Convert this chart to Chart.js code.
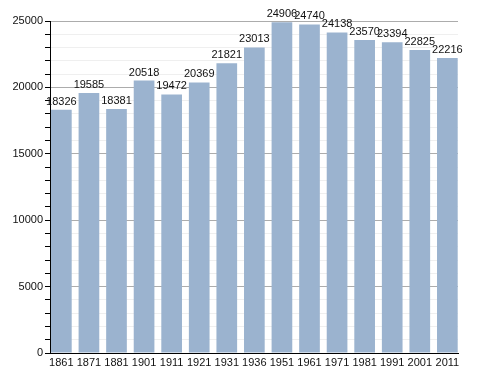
<!DOCTYPE html>
<html>
<head>
<meta charset="utf-8">
<script src="https://cdn.jsdelivr.net/npm/chart.js@4/dist/chart.umd.min.js"></script>
<style>
    html, body { margin: 0; padding: 0; background: #fff; }
    #wrap { width: 488px; height: 373px; }
</style>
</head>
<body>
<div id="wrap"><canvas id="popChart" width="488" height="373"></canvas></div>
<script>
const years = ['1861', '1871', '1881', '1901', '1911', '1921', '1931', '1936', '1951', '1961', '1971', '1981', '1991', '2001', '2011'];
const population = [18326, 19585, 18381, 20518, 19472, 20369, 21821, 23013, 24906, 24740, 24138, 23570, 23394, 22825, 22216];
const yMax = 25000;
const majorStep = 5000;
const minorStep = 1000;

// bars sit on positions 0..14, first bar touches the y axis, last one the right edge
const points = population.map((v, i) => ({ x: i, y: v }));

// draws the value above each bar
const valueLabels = {
    id: 'valueLabels',
    afterDatasetsDraw(chart) {
        const ctx = chart.ctx;
        const meta = chart.getDatasetMeta(0);
        ctx.save();
        ctx.font = '11px "Liberation Sans", Arial, sans-serif';
        ctx.fillStyle = '#111';
        ctx.textAlign = 'center';
        ctx.textBaseline = 'alphabetic';
        meta.data.forEach((bar, i) => {
            ctx.fillText(String(population[i]), bar.x, bar.y - 5);
        });
        ctx.restore();
    }
};

const ctx = document.getElementById('popChart').getContext('2d');
const popChart = new Chart(ctx, {
    type: 'bar',
    data: {
        datasets: [{
            data: points,
            backgroundColor: '#9bb3cf',
            borderWidth: 0,
            barPercentage: 0.75,
            categoryPercentage: 1.0
        }]
    },
    options: {
        responsive: false,
        animation: false,
        layout: {
            padding: { top: 21, right: 30, left: 0, bottom: 0 }
        },
        plugins: {
            legend: { display: false },
            tooltip: { enabled: false }
        },
        scales: {
            x: {
                type: 'linear',
                min: -0.412,
                max: 14.386,
                offset: false,
                grid: { display: false, drawTicks: false },
                border: { color: '#000', width: 1 },
                afterBuildTicks(scale) {
                    scale.ticks = years.map((y, i) => ({ value: i }));
                },
                ticks: {
                    autoSkip: false,
                    maxRotation: 0,
                    color: '#111',
                    padding: 3,
                    font: { family: '"Liberation Sans", Arial, sans-serif', size: 11 },
                    callback: v => years[v] || ''
                },
                afterFit(scale) { scale.height = 20; }
            },
            y: {
                min: 0,
                max: yMax,
                border: { color: '#000', width: 1 },
                grid: {
                    color: c => (c.tick && c.tick.value % majorStep === 0) ? '#acacac' : '#efefef',
                    tickColor: '#000',
                    tickLength: 5
                },
                ticks: {
                    stepSize: minorStep,
                    autoSkip: false,
                    color: '#111',
                    padding: 2,
                    font: { family: '"Liberation Sans", Arial, sans-serif', size: 11 },
                    callback: v => (v % majorStep === 0) ? String(v) : ''
                },
                afterFit(scale) { scale.width = 50; }
            }
        }
    },
    plugins: [valueLabels]
});
</script>
</body>
</html>
